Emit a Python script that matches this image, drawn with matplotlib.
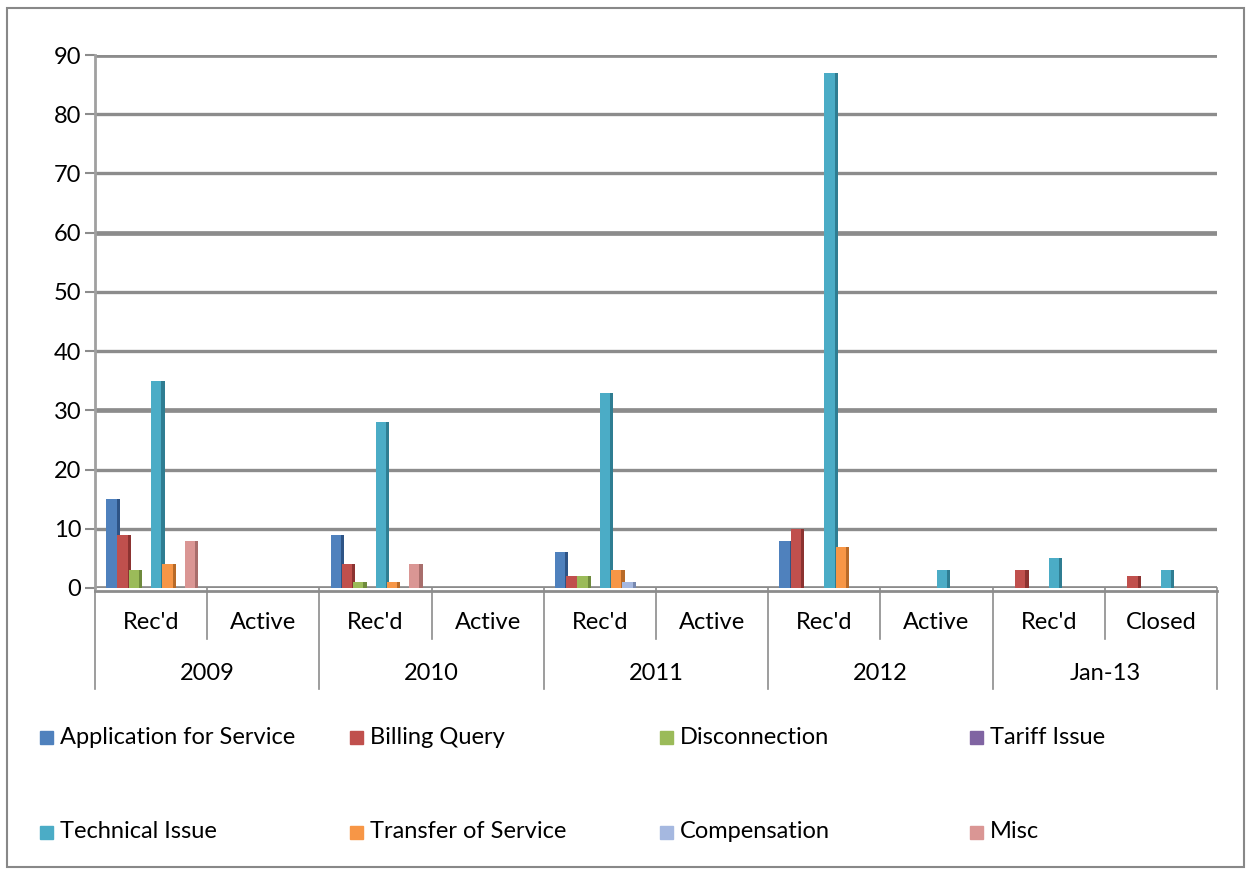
import numpy as np
import matplotlib
matplotlib.use("Agg")
from matplotlib import pyplot as plt
from matplotlib.patches import Rectangle
from matplotlib.transforms import blended_transform_factory

plt.rcParams['font.family'] = ['Lato', 'DejaVu Sans']

# categories (inner / outer level)
subcats = ["Rec'd", "Active", "Rec'd", "Active", "Rec'd", "Active",
           "Rec'd", "Active", "Rec'd", "Closed"]
years = ["2009", "2010", "2011", "2012", "Jan-13"]

series = ["Application for Service", "Billing Query", "Disconnection",
          "Tariff Issue", "Technical Issue", "Transfer of Service",
          "Compensation", "Misc"]

app_service = [15, 0, 9, 0, 6, 0, 8, 0, 0, 0]
billing     = [9, 0, 4, 0, 2, 0, 10, 0, 3, 2]
disconnect  = [3, 0, 1, 0, 2, 0, 0, 0, 0, 0]
tariff      = [0, 0, 0, 0, 0, 0, 0, 0, 0, 0]
technical   = [35, 0, 28, 0, 33, 0, 87, 3, 5, 3]
transfer    = [4, 0, 1, 0, 3, 0, 7, 0, 0, 0]
compensation = [0, 0, 0, 0, 1, 0, 0, 0, 0, 0]
misc        = [8, 0, 4, 0, 0, 0, 0, 0, 0, 0]

values = [app_service, billing, disconnect, tariff, technical, transfer,
          compensation, misc]
colors = ["#4F81BD", "#C0504D", "#9BBB59", "#8064A2", "#4BACC6", "#F79646",
          "#A5B8E0", "#DA9694"]
sides = ["#2E5486", "#8C3331", "#6E8A3C", "#5B4678", "#2F7D92", "#B86A28",
         "#7889B0", "#A86E6C"]

fig = plt.figure(figsize=(12.52, 8.75), dpi=100)
ax = fig.add_axes([95 / 1252, 1 - 588 / 875, (1217 - 95) / 1252, (588 - 55) / 875])

x = np.arange(len(subcats))
w = 0.1
for j, (vals, c, sc) in enumerate(zip(values, colors, sides)):
    v = np.array(vals, dtype=float)
    left = x + (j - 4) * w
    ax.bar(left + w * 0.9, v, width=w * 0.3, align='edge', color=sc,
           zorder=3, linewidth=0)
    ax.bar(left, v, width=w * 0.92, align='edge', color=c, zorder=3, linewidth=0)

ax.set_xlim(-0.5, len(subcats) - 0.5)
ax.set_ylim(0, 90)
yt = np.arange(0, 91, 10)
ax.set_yticks(yt)
ax.set_yticklabels([str(t) for t in yt], fontsize=17)
ax.tick_params(axis='y', length=7, color='#8C8C8C', width=1.5, pad=3)
ax.set_xticks([])
for t in yt:
    lw = 3.4 if t % 30 == 0 else 2.4
    ax.axhline(t, color='#8C8C8C', lw=lw, zorder=1)
for s in ['top', 'right', 'bottom']:
    ax.spines[s].set_visible(False)
ax.spines['left'].set_color('#A0A0A0')
ax.spines['left'].set_linewidth(2)

# two-level category axis
tr = blended_transform_factory(ax.transData, ax.transAxes)
ax.plot([-0.5, len(subcats) - 0.5], [-0.005, -0.005], transform=tr,
        color='#8C8C8C', lw=2, clip_on=False)
for i, lab in enumerate(subcats):
    ax.text(i, -0.065, lab, transform=tr, ha='center', va='center', fontsize=17)
for i in range(len(subcats) + 1):
    bottom = -0.19 if i % 2 == 0 else -0.095
    ax.plot([i - 0.5, i - 0.5], [0, bottom], transform=tr, color='#8C8C8C',
            lw=1.2, clip_on=False)
for k, yr in enumerate(years):
    ax.text(2 * k + 0.5, -0.16, yr, transform=tr, ha='center', va='center',
            fontsize=17)

# legend, two rows of four
for j, (name, c) in enumerate(zip(series, colors)):
    col, row = j % 4, j // 4
    lx = (40 + 310 * col) / 1252
    ly = 1 - (737 + 95 * row) / 875
    fig.patches.append(Rectangle((lx, ly - 7 / 875), 13 / 1252, 13 / 875,
                                 transform=fig.transFigure, color=c))
    fig.text(lx + 20 / 1252, ly, name, fontsize=17, va='center', ha='left')

fig.patches.append(Rectangle((7 / 1252, 8 / 875), 1237 / 1252, 859 / 875,
                             transform=fig.transFigure, fill=False,
                             edgecolor='#888888', lw=1.5))

fig.savefig("out.png", dpi=100)
